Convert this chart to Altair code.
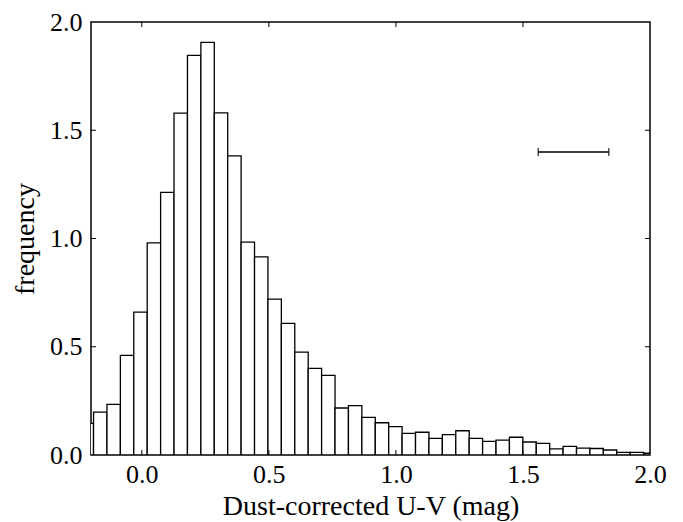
import altair as alt
import pandas as pd

# Histogram: bin grid (first bin is partially hidden left of x=-0.2)
bin_first_edge = -0.2428
bin_width = 0.0528
heights = [0.146, 0.198, 0.234, 0.460, 0.660, 0.980, 1.213, 1.579, 1.846, 1.906,
           1.580, 1.382, 0.983, 0.915, 0.720, 0.608, 0.475, 0.400, 0.368, 0.217,
           0.228, 0.174, 0.149, 0.131, 0.100, 0.105, 0.077, 0.094, 0.112, 0.077,
           0.063, 0.069, 0.082, 0.060, 0.054, 0.028, 0.040, 0.032, 0.030, 0.023,
           0.012, 0.012, 0.008]

x_tick_values = [0.0, 0.5, 1.0, 1.5, 2.0]
y_tick_values = [0.0, 0.5, 1.0, 1.5, 2.0]
inner_x_ticks = [0.0, 0.5, 1.0, 1.5]
inner_y_ticks = [0.5, 1.0, 1.5]

err_x_lo = [1.56]
err_x_hi = [1.838]
err_y = [1.40]

W, H = 559, 433
FONT = "Liberation Serif"

left_edges = [bin_first_edge + i * bin_width for i in range(len(heights))]
hist = pd.DataFrame({
    "x0": left_edges,
    "x1": [e + bin_width for e in left_edges],
    "h": heights,
})

xscale = alt.Scale(domain=[-0.2, 2.0], nice=False, zero=False)
yscale = alt.Scale(domain=[0, 2.0], nice=False, zero=True)

bars = alt.Chart(hist).mark_rect(
    fill="white", stroke="black", strokeWidth=1.3, clip=True
).encode(
    x=alt.X("x0:Q", scale=xscale, axis=alt.Axis(
        values=x_tick_values, format=".1f", ticks=False, domain=False, grid=False,
        labelFont=FONT, labelFontSize=26, labelColor="black", labelPadding=6,
        labelFlush=False, labelOverlap=False, labelBound=False,
        title="Dust-corrected U-V (mag)", titleFont=FONT, titleFontSize=28,
        titleFontWeight="normal", titleColor="black", titlePadding=5)),
    x2="x1:Q",
    y=alt.Y("h:Q", scale=yscale, axis=alt.Axis(
        values=y_tick_values, format=".1f", ticks=False, domain=False, grid=False,
        labelFont=FONT, labelFontSize=26, labelColor="black", labelPadding=9,
        labelFlush=False, labelOverlap=False, labelBound=False,
        title="frequency", titleFont=FONT, titleFontSize=28,
        titleFontWeight="normal", titleColor="black", titlePadding=10)),
    y2=alt.datum(0),
)

xt = pd.DataFrame({"v": inner_x_ticks})
yt = pd.DataFrame({"v": inner_y_ticks})

tick_bottom = alt.Chart(xt).mark_rule(color="black", strokeWidth=1).encode(
    x=alt.X("v:Q", scale=xscale), y=alt.value(H), y2=alt.value(H - 5))
tick_top = alt.Chart(xt).mark_rule(color="black", strokeWidth=1).encode(
    x=alt.X("v:Q", scale=xscale), y=alt.value(0), y2=alt.value(5))
tick_left = alt.Chart(yt).mark_rule(color="black", strokeWidth=1).encode(
    y=alt.Y("v:Q", scale=yscale), x=alt.value(0), x2=alt.value(5))
tick_right = alt.Chart(yt).mark_rule(color="black", strokeWidth=1).encode(
    y=alt.Y("v:Q", scale=yscale), x=alt.value(W), x2=alt.value(W - 5))

err = pd.DataFrame({"lo": err_x_lo, "hi": err_x_hi, "y": err_y})
err_line = alt.Chart(err).mark_rule(color="black", strokeWidth=1.5).encode(
    x=alt.X("lo:Q", scale=xscale), x2="hi:Q", y=alt.Y("y:Q", scale=yscale))
cap_lo = alt.Chart(err).mark_tick(color="black", orient="vertical", size=8, thickness=1.5).encode(
    x=alt.X("lo:Q", scale=xscale), y=alt.Y("y:Q", scale=yscale))
cap_hi = alt.Chart(err).mark_tick(color="black", orient="vertical", size=8, thickness=1.5).encode(
    x=alt.X("hi:Q", scale=xscale), y=alt.Y("y:Q", scale=yscale))

chart = alt.layer(
    bars, tick_bottom, tick_top, tick_left, tick_right, err_line, cap_lo, cap_hi
).properties(
    width=W, height=H,
    autosize=alt.AutoSizeParams(type="none"),
    padding={"left": 83, "top": 14, "right": 20, "bottom": 66},
    background="white",
).configure_view(stroke="black", strokeWidth=1.5)

chart.save("out.html", embed_options={"renderer": "svg", "actions": False})
